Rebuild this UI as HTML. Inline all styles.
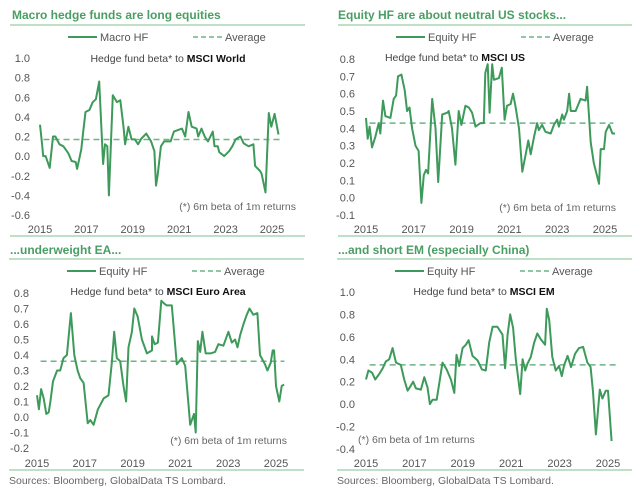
<!DOCTYPE html>
<html><head><meta charset="utf-8"><style>
body{margin:0;background:#fff;}
svg{display:block;font-family:"Liberation Sans",sans-serif;}
.tk{font-size:11px;fill:#555;}
.ttl{font-size:12px;font-weight:bold;fill:#4a9e64;}
.lg{font-size:11px;fill:#555;}
.sub{font-size:10.5px;fill:#444;}
.note{font-size:10.5px;fill:#666;}
</style></head><body>
<svg id="c" width="644" height="492"></svg>
<script>
const p1Years=[2015,2015.1,2015.14,2015.24,2015.42,2015.56,2015.66,2015.84,2016.01,2016.22,2016.36,2016.54,2016.6,2016.78,2016.85,2016.96,2017.13,2017.27,2017.41,2017.55,2017.72,2017.8,2017.9,2017.97,2018.14,2018.32,2018.46,2018.6,2018.67,2018.81,2018.95,2019.09,2019.23,2019.37,2019.58,2019.79,2019.93,2020.0,2020.07,2020.21,2020.35,2020.63,2020.77,2021.12,2021.26,2021.4,2021.54,2021.75,2021.82,2021.96,2022.1,2022.24,2022.45,2022.52,2022.66,2022.73,2022.94,2023.15,2023.29,2023.43,2023.64,2023.78,2023.99,2024.2,2024.27,2024.48,2024.55,2024.72,2024.86,2024.97,2025.11,2025.28];
const p1Vals=[0.32,0.1,0,0,-0.12,0.2,0.2,0.12,0.1,0.03,-0.05,-0.06,-0.13,0.07,0.22,0.45,0.47,0.55,0.58,0.76,-0.08,0.12,0.1,-0.4,0.62,0.55,0.57,0.3,0.12,0.3,0.17,0.17,0.12,0.18,0.23,0.15,0.05,-0.3,-0.2,0.1,0.15,0.15,0.25,0.28,0.2,0.45,0.3,0.28,0.2,0.28,0.2,0.15,0.25,0.1,0.1,0.04,0,0.05,0.1,0.17,0.2,0.13,0.1,0.12,-0.1,-0.15,-0.18,-0.37,0.44,0.3,0.43,0.22];
const p2Years=[2015,2015.07,2015.15,2015.25,2015.39,2015.53,2015.6,2015.71,2015.81,2016.02,2016.16,2016.26,2016.34,2016.48,2016.62,2016.72,2016.82,2016.93,2017.07,2017.2,2017.32,2017.42,2017.51,2017.6,2017.77,2017.91,2018.02,2018.19,2018.4,2018.46,2018.6,2018.74,2018.88,2018.99,2019.16,2019.3,2019.44,2019.58,2019.79,2019.93,2019.99,2020.09,2020.17,2020.28,2020.35,2020.56,2020.68,2020.8,2020.9,2021.05,2021.15,2021.25,2021.4,2021.54,2021.68,2021.79,2021.89,2022.03,2022.16,2022.23,2022.37,2022.51,2022.73,2022.86,2023.0,2023.07,2023.21,2023.28,2023.42,2023.5,2023.57,2023.77,2023.98,2024.19,2024.25,2024.4,2024.53,2024.75,2024.82,2024.96,2025.03,2025.17,2025.31,2025.42];
const p2Vals=[0.46,0.34,0.41,0.29,0.35,0.43,0.37,0.56,0.47,0.46,0.57,0.59,0.7,0.71,0.62,0.5,0.52,0.4,0.3,0.27,-0.03,0.13,0.16,0.14,0.57,0.4,0.09,0.48,0.49,0.5,0.4,0.19,0.5,0.42,0.53,0.52,0.49,0.41,0.43,0.43,0.72,0.77,0.49,0.77,0.68,0.69,0.75,0.45,0.53,0.54,0.6,0.53,0.4,0.15,0.25,0.33,0.25,0.35,0.43,0.39,0.42,0.38,0.37,0.42,0.45,0.41,0.48,0.45,0.5,0.6,0.5,0.5,0.57,0.56,0.64,0.32,0.2,0.08,0.28,0.28,0.38,0.42,0.37,0.37];
const p3Years=[2015,2015.08,2015.17,2015.28,2015.39,2015.49,2015.56,2015.67,2015.84,2015.97,2016.11,2016.25,2016.42,2016.56,2016.7,2016.81,2016.95,2017.12,2017.23,2017.37,2017.55,2017.79,2017.99,2018.13,2018.23,2018.34,2018.48,2018.62,2018.73,2018.83,2018.97,2019.07,2019.21,2019.39,2019.6,2019.81,2019.81,2019.92,2020.06,2020.2,2020.34,2020.43,2020.64,2020.85,2021.06,2021.2,2021.41,2021.57,2021.64,2021.73,2021.83,2021.92,2022.06,2022.26,2022.45,2022.59,2022.8,2023.01,2023.15,2023.29,2023.39,2023.5,2023.64,2023.78,2023.89,2024.05,2024.22,2024.33,2024.54,2024.64,2024.78,2024.86,2024.92,2025.0,2025.14,2025.24,2025.34];
const p3Vals=[0.14,0.05,0.18,0.12,0.02,0.03,0.1,0.23,0.3,0.3,0.38,0.4,0.67,0.4,0.3,0.25,0.22,-0.04,-0.02,-0.05,0.05,0.12,0.14,0.35,0.55,0.38,0.36,0.2,0.1,0.45,0.55,0.7,0.65,0.5,0.41,0.43,0.52,0.47,0.48,0.75,0.73,0.72,0.72,0.34,0.38,0.33,-0.05,0.02,-0.1,0.49,0.42,0.55,0.41,0.41,0.42,0.47,0.46,0.55,0.48,0.5,0.45,0.53,0.6,0.66,0.7,0.66,0.67,0.4,0.34,0.3,0.35,0.43,0.43,0.2,0.1,0.2,0.21];
const p4Years=[2015,2015.1,2015.25,2015.38,2015.55,2015.69,2015.82,2015.96,2016.1,2016.24,2016.44,2016.58,2016.72,2016.81,2016.95,2017.06,2017.27,2017.41,2017.54,2017.64,2017.75,2017.92,2018.16,2018.33,2018.51,2018.65,2018.74,2018.85,2018.99,2019.13,2019.24,2019.4,2019.61,2019.79,2019.95,2020.09,2020.23,2020.43,2020.64,2020.75,2020.85,2020.96,2021.08,2021.19,2021.37,2021.47,2021.58,2021.67,2021.81,2021.95,2022.08,2022.22,2022.4,2022.47,2022.57,2022.7,2022.84,2022.98,2023.09,2023.19,2023.33,2023.47,2023.64,2023.8,2023.97,2024.15,2024.28,2024.38,2024.5,2024.66,2024.77,2024.91,2025.0,2025.15];
const p4Vals=[0.22,0.3,0.28,0.22,0.27,0.32,0.38,0.4,0.5,0.37,0.35,0.22,0.12,0.15,0.2,0.14,0.13,0.24,0.15,0,0.04,0.04,0.37,0.31,0.22,0.1,0.44,0.34,0.5,0.53,0.57,0.43,0.39,0.31,0.3,0.55,0.69,0.69,0.62,0.32,0.62,0.8,0.68,0.4,0.09,0.4,0.3,0.36,0.42,0.55,0.63,0.58,0.53,0.85,0.75,0.42,0.3,0.34,0.25,0.35,0.43,0.33,0.45,0.5,0.51,0.37,0.33,0.11,-0.27,0.13,0.05,0.12,0.12,-0.33];
const averages=[0.17,0.43,0.36,0.35];
const tickYears=[2015,2017,2019,2021,2023,2025];
const p1Ticks=["1.0","0.8","0.6","0.4","0.2","0.0","-0.2","-0.4","-0.6"];
const p2Ticks=["0.8","0.7","0.6","0.5","0.4","0.3","0.2","0.1","0.0","-0.1"];
const p3Ticks=["0.8","0.7","0.6","0.5","0.4","0.3","0.2","0.1","0.0","-0.1","-0.2"];
const p4Ticks=["1.0","0.8","0.6","0.4","0.2","0.0","-0.2","-0.4"];

const NS="http://www.w3.org/2000/svg";
const svg=document.getElementById('c');
function mk(tag,attrs,txt){const e=document.createElementNS(NS,tag);for(const k in attrs)e.setAttribute(k,attrs[k]);if(txt!==undefined)e.textContent=txt;svg.appendChild(e);return e;}

const panels=[
 {title:"Macro hedge funds are long equities",leg:"Macro HF",sub:"MSCI World",ys:p1Years,vs:p1Vals,ticks:p1Ticks,
  tx:12,ty:19,rx1:10,rx2:305,r1:25,r2:236,legY:37,legX:68,x0:40,x1:272,yTop:58,yBot:215,tickR:30,subX:168,subY:62,noteX:296,noteY:210,noteAnchor:"end",xlY:233},
 {title:"Equity HF are about neutral US stocks...",leg:"Equity HF",sub:"MSCI US",ys:p2Years,vs:p2Vals,ticks:p2Ticks,
  tx:338,ty:19,rx1:338,rx2:632,r1:25,r2:236,legY:37,legX:396,x0:366,x1:605,yTop:59,yBot:215,tickR:355,subX:455,subY:61,noteX:616,noteY:211,noteAnchor:"end",xlY:233},
 {title:"...underweight EA...",leg:"Equity HF",sub:"MSCI Euro Area",ys:p3Years,vs:p3Vals,ticks:p3Ticks,
  tx:10,ty:254,rx1:9,rx2:304,r1:259,r2:470,legY:271,legX:67,x0:37,x1:276,yTop:293,yBot:448,tickR:29,subX:158,subY:295,noteX:287,noteY:444,noteAnchor:"end",xlY:467},
 {title:"...and short EM (especially China)",leg:"Equity HF",sub:"MSCI EM",ys:p4Years,vs:p4Vals,ticks:p4Ticks,
  tx:338,ty:254,rx1:337,rx2:632,r1:259,r2:470,legY:271,legX:395,x0:366,x1:608,yTop:292,yBot:449,tickR:355,subX:484,subY:295,noteX:358,noteY:443,noteAnchor:"start",xlY:467}
];
const slugs=["macro-world","equity-us","equity-ea","equity-em"];
panels.forEach((p,i)=>{
 const s=slugs[i];
 const t=mk('text',{x:p.tx,y:p.ty,class:'ttl'},p.title);
 
 
 const r1=mk('line',{x1:p.rx1,x2:p.rx2,y1:p.r1,y2:p.r1,stroke:'#7cc08f','stroke-width':1});
 
 
 const r2=mk('line',{x1:p.rx1,x2:p.rx2,y1:p.r2,y2:p.r2,stroke:'#7cc08f','stroke-width':1});
 
 
 const l1=mk('line',{x1:p.legX,x2:p.legX+29,y1:p.legY,y2:p.legY,stroke:'#3d9a5a','stroke-width':2});
 
 
 const lt=mk('text',{x:p.legX+32,y:p.legY+4,class:'lg'},p.leg);
 
 
 const l2=mk('line',{x1:p.legX+125,x2:p.legX+154,y1:p.legY,y2:p.legY,stroke:'#6cb386','stroke-width':1.5,'stroke-dasharray':'5,3'});
 
 
 const at=mk('text',{x:p.legX+157,y:p.legY+4,class:'lg'},'Average');
 
 
 const st=mk('text',{x:p.subX,y:p.subY,class:'sub','text-anchor':'middle'});
 
 
 const a=document.createElementNS(NS,'tspan');a.textContent='Hedge fund beta* to ';st.appendChild(a);
 const b=document.createElementNS(NS,'tspan');b.textContent=p.sub;b.setAttribute('font-weight','bold');b.setAttribute('fill','#111');st.appendChild(b);
 const vMax=parseFloat(p.ticks[0]),vMin=parseFloat(p.ticks[p.ticks.length-1]);
 const Y=v=>p.yTop+(vMax-v)/(vMax-vMin)*(p.yBot-p.yTop);
 const X=yr=>p.x0+(yr-2015)/10*(p.x1-p.x0);
 p.ticks.forEach(tk=>{
  const e=mk('text',{x:p.tickR,y:Y(parseFloat(tk))+4,class:'tk','text-anchor':'end'},tk);
  
  
 });
 tickYears.forEach(yr=>{
  const e=mk('text',{x:X(yr),y:p.xlY,class:'tk','text-anchor':'middle'},String(yr));
  
  
 });
 const av=mk('line',{x1:X(2015.15),x2:X(2025.35),y1:Y(averages[i]),y2:Y(averages[i]),stroke:'#6cb386','stroke-width':1.5,'stroke-dasharray':'6,4'});
 
 
 const d=p.ys.map((yr,j)=>(j?'L':'M')+X(yr).toFixed(1)+','+Y(p.vs[j]).toFixed(1)).join('');
 const ln=mk('path',{d:d,fill:'none',stroke:'#3d9a5a','stroke-width':2,'stroke-linejoin':'round'});
 
 
 const nt=mk('text',{x:p.noteX,y:p.noteY,class:'note','text-anchor':p.noteAnchor},'(*) 6m beta of 1m returns');
 
 
});
const s1=mk('text',{x:9,y:484,class:'note','font-size':'10'},'Sources: Bloomberg, GlobalData TS Lombard.');


const s2=mk('text',{x:337,y:484,class:'note','font-size':'10'},'Sources: Bloomberg, GlobalData TS Lombard.');


</script>
</body></html>
